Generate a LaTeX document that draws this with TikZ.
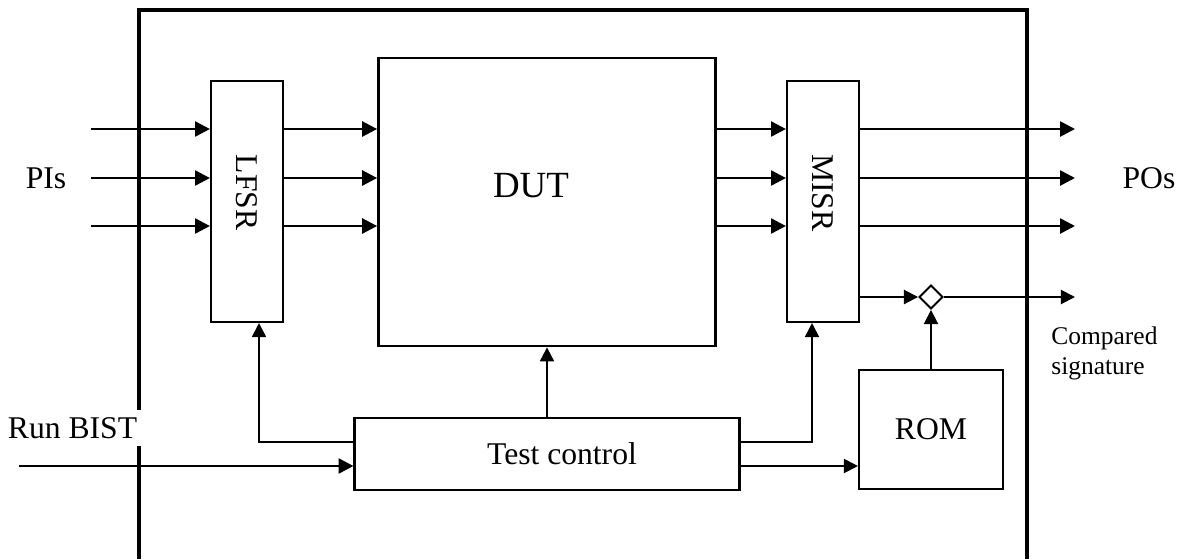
\documentclass[tikz,border=0pt]{standalone}
\usepackage{fontspec}
\setmainfont{Liberation Serif}
\usepackage{tikz}
\usetikzlibrary{shapes.geometric,arrows.meta}

\begin{document}
\begin{tikzpicture}[x=0.02cm, y=-0.02cm,
	block/.style={draw, rectangle, line width=1.2pt, inner sep=0pt, font=\fontsize{18}{21}\selectfont},
	sig/.style={-{Triangle[length=8.5pt,width=8.5pt]}, line width=1.5pt},
	ctrl/.style={-{Triangle[length=8pt,width=8pt]}, line width=1.1pt},
	txt/.style={font=\fontsize{18}{21}\selectfont, inner sep=0pt}]
	\useasboundingbox (0,0) rectangle (1181,559);

	% chip border
	\draw[line width=2.1pt] (139,559) |- (1027,10) -- (1027,559);

	\node[block, minimum width=1.44cm, minimum height=4.82cm] (lfsr) at (247,201.5) {\rotatebox{-90}{LFSR\hspace*{0.35cm}}};
	\node[block, line width=1.6pt, minimum width=6.74cm, minimum height=5.76cm] (dut) at (547,202) {};
	\node[txt, font=\fontsize{21}{25}\selectfont] (dutname) at (531,186) {DUT};
	\node[block, minimum width=1.44cm, minimum height=4.82cm] (misr) at (823,201.5) {\rotatebox{-90}{MISR\hspace*{0.35cm}}};

	\node[block, minimum width=7.7cm, minimum height=1.44cm] (tc) at (547,454) {\hspace*{0.6cm}Test control};
	\node[block, minimum width=2.88cm, minimum height=2.38cm] (rom) at (931,429.5) {ROM};
	\node[draw, diamond, line width=1.1pt, inner sep=0pt, minimum width=0.48cm, minimum height=0.48cm] (cmp) at (931,297) {};

	\node[txt] (pis) at (46,178) {PIs};
	\node[txt] (pos) at (1149,178) {POs};
	\node[txt, fill=white, inner xsep=2pt, inner ysep=4pt, anchor=east] (runbist) at (141,428) {Run BIST};
	\node[txt, font=\fontsize{14.5}{17}\selectfont, align=left, anchor=west] (cmpsig) at (1051,353) {Compared\\signature};

	% data path
	\foreach \y [count=\i] in {129,178,226} {
		\coordinate (pi\i) at (91,\y);
		\coordinate (po\i) at (1075,\y);
		\draw[sig] (pi\i) -- (pi\i -| lfsr.west);
		\draw[sig] (pi\i -| lfsr.east) -- (pi\i -| dut.west);
		\draw[sig] (pi\i -| dut.east) -- (pi\i -| misr.west);
		\draw[sig] (pi\i -| misr.east) -- (po\i);
	}

	% signature compare
	\coordinate (sigout) at (1075,297);
	\draw[ctrl] (cmp.west -| misr.east) -- (cmp.west);
	\draw[ctrl] (cmp.east) -- (sigout);
	\draw[ctrl] (rom.north) -- (cmp.south);

	% test control
	\coordinate (bist) at (19,466);
	\draw[sig] (bist) -- (bist -| tc.west);
	\draw[ctrl] ([yshift=0.24cm]tc.west) -| ([xshift=0.24cm]lfsr.south);
	\draw[ctrl] (tc.north) -- (dut.south);
	\draw[ctrl] ([yshift=0.24cm]tc.east) -| ([xshift=-0.22cm]misr.south);
	\draw[ctrl] ([yshift=-0.24cm]tc.east) -- ([yshift=-0.24cm]tc.east -| rom.west);
\end{tikzpicture}
\end{document}
